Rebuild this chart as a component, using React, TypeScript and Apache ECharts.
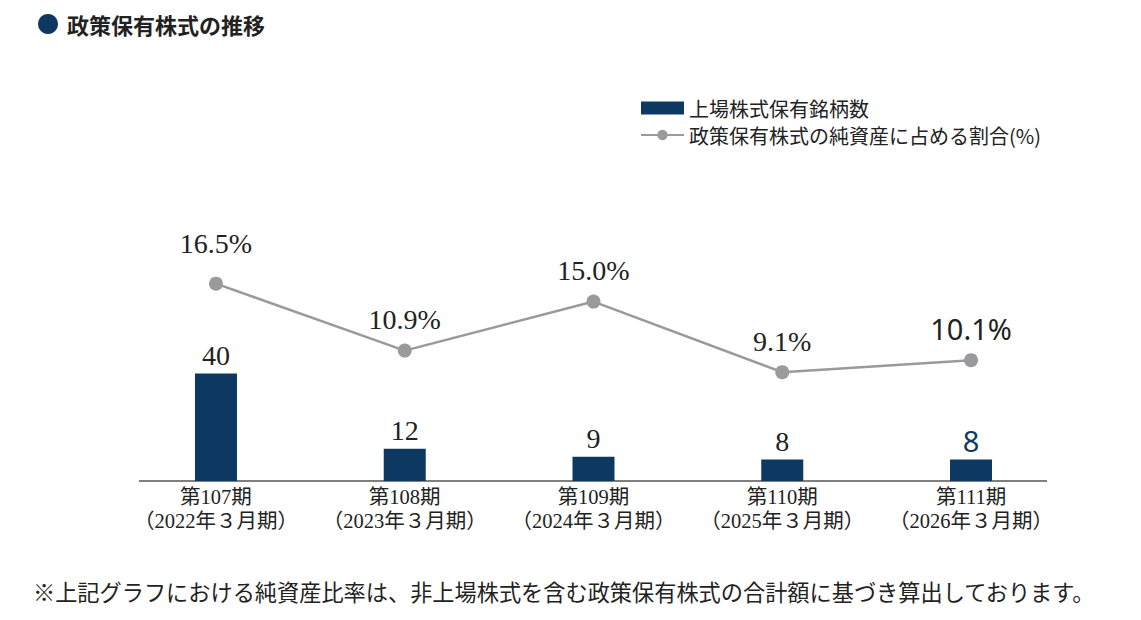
import React, { useEffect, useRef } from "react";
import * as echarts from "echarts";

const categories = [
  "第107期\n（2022年３月期）",
  "第108期\n（2023年３月期）",
  "第109期\n（2024年３月期）",
  "第110期\n（2025年３月期）",
  "第111期\n（2026年３月期）",
];
const holdingsCount = [40, 12, 9, 8, 8];
const ratioPct = [16.5, 10.9, 15.0, 9.1, 10.1];
const barName = "上場株式保有銘柄数";
const lineName = "政策保有株式の純資産に占める割合(%)";
const titleText = "政策保有株式の推移";
const footnote =
  "※上記グラフにおける純資産比率は、非上場株式を含む政策保有株式の合計額に基づき算出しております。";

const NAVY = "#0d3862";
const GRAY = "#9a9a9c";
const TEXT = "#222222";
const SERIF = "'Liberation Serif', 'Noto Sans CJK JP', serif";
const SANS = "'Noto Sans', 'Noto Sans CJK JP', sans-serif";
const CJK = "'Noto Sans CJK JP', 'Noto Sans', sans-serif";

export default function App() {
  const ref = useRef<HTMLDivElement>(null);
  useEffect(() => {
    if (!ref.current) return;
    const chart = echarts.init(ref.current, null, { renderer: "svg" });
    const last = holdingsCount.length - 1;
    chart.setOption({
      animation: false,
      backgroundColor: "#ffffff",
      textStyle: { fontFamily: CJK },
      grid: { left: 121.6, right: 75.6, top: 181, bottom: 139 },
      legend: {
        orient: "vertical",
        left: 635,
        top: 93,
        padding: 5,
        itemWidth: 43,
        itemHeight: 13,
        itemGap: 7,
        textStyle: { fontSize: 20, lineHeight: 20, color: TEXT, fontFamily: CJK },
        data: [
          { name: barName, icon: "rect" },
          { name: lineName },
        ],
      },
      xAxis: {
        type: "category",
        data: categories,
        boundaryGap: true,
        axisLine: { show: false },
        axisTick: { show: false },
        axisLabel: {
          margin: 4,
          fontSize: 20.5,
          lineHeight: 24,
          color: TEXT,
          fontFamily: SERIF,
          interval: 0,
        },
      },
      yAxis: [
        { type: "value", min: 0, max: 111.5, show: false, splitLine: { show: false } },
        { type: "value", min: 0, max: 25.08, show: false, splitLine: { show: false } },
      ],
      series: [
        {
          name: barName,
          type: "bar",
          yAxisIndex: 0,
          barWidth: 42,
          itemStyle: { color: NAVY },
          label: {
            show: true,
            position: "top",
            distance: 4,
            fontSize: 28,
            fontFamily: SERIF,
            color: TEXT,
          },
          data: holdingsCount.map((v, i) =>
            i === last
              ? { value: v, label: { fontFamily: SANS, color: NAVY, fontSize: 29 } }
              : v
          ),
        },
        {
          name: lineName,
          type: "line",
          yAxisIndex: 1,
          symbol: "circle",
          symbolSize: 14,
          lineStyle: { color: GRAY, width: 2.5 },
          itemStyle: { color: GRAY },
          label: {
            show: true,
            position: "top",
            distance: 10,
            fontSize: 28,
            fontFamily: SERIF,
            color: TEXT,
            formatter: (p: any) => `${Number(p.value).toFixed(1)}%`,
          },
          data: ratioPct.map((v, i) =>
            i === 0
              ? { value: v, label: { distance: 19 } }
              : i === last
              ? { value: v, label: { fontFamily: SANS, color: TEXT, fontSize: 29 } }
              : v
          ),
        },
      ],
      graphic: [
        {
          type: "circle",
          shape: { cx: 48, cy: 24, r: 10 },
          style: { fill: NAVY },
        },
        {
          type: "text",
          x: 67,
          y: 24,
          style: {
            text: titleText,
            fontSize: 22,
            fontWeight: "bold",
            fontFamily: CJK,
            fill: TEXT,
            verticalAlign: "middle",
          },
        },
        {
          type: "line",
          shape: { x1: 139, y1: 481, x2: 1047, y2: 481 },
          style: { stroke: "#555555", lineWidth: 1.5 },
        },
        {
          type: "text",
          x: 33,
          y: 591,
          style: {
            text: footnote,
            fontSize: 22.2,
            fontFamily: CJK,
            fill: TEXT,
            verticalAlign: "middle",
          },
        },
      ],
    });
    return () => chart.dispose();
  }, []);
  return (
    <div
      ref={ref}
      style={{ position: "fixed", left: 0, top: 0, width: 1141, height: 620 }}
    />
  );
}
